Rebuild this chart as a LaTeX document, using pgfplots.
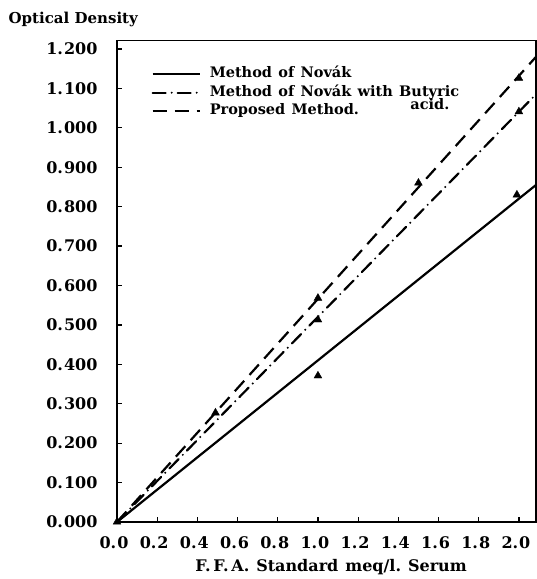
\documentclass[border=0pt]{standalone}
\usepackage{fontspec}
\setmainfont{DejaVu Serif}
\newfontfamily\lsfont{DejaVu Serif}[WordSpace=1.25]
\usepackage{pgfplots}
\pgfplotsset{compat=1.18}
\newcommand{\lf}{\lsfont\bfseries\fontsize{16}{18}\selectfont}
\newcommand{\legf}{\lsfont\bfseries\fontsize{14.5}{17}\selectfont}
\newcommand{\tf}{\bfseries\fontsize{16}{18}\selectfont}
\newcommand{\dk}{.\kern1pt}
\begin{document}
\begin{tikzpicture}[x=1pt,y=1pt]
\useasboundingbox (0,0) rectangle (537,579);
\begin{axis}[
  at={(117pt,57pt)}, anchor=south west,
  scale only axis, width=419pt, height=481.5pt,
  xmin=0, xmax=2.085, ymin=0, ymax=1.2215,
  axis line style={line width=1.6pt},
  tick pos=left, tick align=inside, major tick length=5pt,
  tick style={line width=1.2pt, black},
  xtick={0,0.2,0.4,0.6,0.8,1.0,1.2,1.4,1.6,1.8,2.0},
  xticklabels={0\dk0,0\dk2,0\dk4,0\dk6,0\dk8,1\dk0,1\dk2,1\dk4,1\dk6,1\dk8,2\dk0},
  ytick={0,0.1,0.2,0.3,0.4,0.5,0.6,0.7,0.8,0.9,1.0,1.1,1.2},
  yticklabels={0\dk000,0\dk100,0\dk200,0\dk300,0\dk400,0\dk500,0\dk600,0\dk700,0\dk800,0\dk900,1\dk000,1\dk100,1\dk200},
  ticklabel style={font=\tf},
  yticklabel style={anchor=east, xshift=-16pt},
  xticklabel style={anchor=center, yshift=-21pt, xshift=-3pt},
  xlabel={F.\,F.\,A.\ Standard meq/l.\ Serum},
  ylabel={Optical Density},
  every axis x label/.style={at={(axis description cs:0.511,-0.0935)}, anchor=center, font=\lf},
  every axis y label/.style={at={(axis description cs:-0.267,1.0447)}, anchor=west, font=\bfseries\fontsize{15}{17}\selectfont},
  legend style={draw=none, fill=none, at={(axis cs:0.171,1.160)}, anchor=north west,
    font=\legf, row sep=0pt, inner sep=0pt,
    nodes={inner xsep=3pt, inner ysep=2.5pt, text height=10.5pt, text depth=3pt},
    cells={anchor=west}},
  legend image code/.code={\draw[#1] (0pt,0pt) -- (47pt,0pt); \path (53pt,0pt);},
]
\addplot[black, line width=2.2pt] coordinates {(0,0) (2.085,0.855)};
\addlegendentry{Method of Nov\'ak}
\addplot[black, line width=2.2pt, line cap=round, dash pattern=on 13pt off 6pt on 0pt off 6pt] coordinates {(0,0) (2.085,1.085)};
\addlegendentry{Method of Nov\'ak with Butyric}
\addplot[black, line width=2.2pt, dash pattern=on 14pt off 8pt] coordinates {(0,0) (2.085,1.18)};
\addlegendentry{Proposed Method.}
\addplot[only marks, mark=triangle*, mark size=4.5pt, black, forget plot] coordinates {(0,0) (1.0,0.371) (1.99,0.83) (1.0,0.513) (2.0,1.041) (0.49,0.277) (1.0,0.568) (1.5,0.86) (2.0,1.126)};
\node[font=\legf, anchor=east, inner sep=0pt] at (axis cs:1.655,1.060) {acid.};
\end{axis}
\end{tikzpicture}
\end{document}
